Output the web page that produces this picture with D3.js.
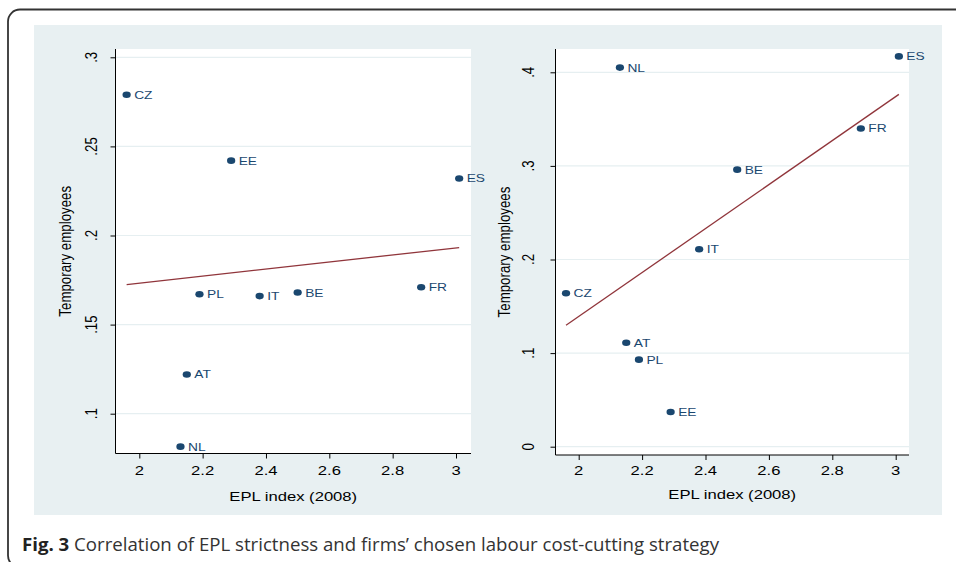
<!DOCTYPE html>
<html><head><meta charset="utf-8">
<script src="https://cdn.jsdelivr.net/npm/d3@7"></script>
<style>body{margin:0;background:#fff;}svg{display:block;}</style>
</head><body>
<svg id="chart" width="956" height="562"></svg>
<script>
const countries = ["CZ","EE","ES","PL","IT","BE","FR","AT","NL"];
const epl = [1.96, 2.29, 3.01, 2.19, 2.38, 2.50, 2.89, 2.15, 2.13];
const tempLeft = [0.279, 0.242, 0.232, 0.167, 0.166, 0.168, 0.171, 0.122, 0.0815];
const tempRight = [0.164, 0.037, 0.417, 0.093, 0.211, 0.296, 0.340, 0.111, 0.405];
const xTicks = [2, 2.2, 2.4, 2.6, 2.8, 3];
const yTicksLeft = [0.1, 0.15, 0.2, 0.25, 0.3];
const yTicksRight = [0, 0.1, 0.2, 0.3, 0.4];
const xTitle = "EPL index (2008)";
const yTitle = "Temporary employees";

const svg = d3.select("#chart");
const NAVY = "#1a476f", MAROON = "#90353b", FONT = "'Liberation Sans', Arial, sans-serif";
const SX = 1.25;      // horizontal stretch of the original graph image
const FS = 13.3;      // axis text size
const LFS = 11;       // marker label size

// outer border (bottom edge runs off the page)
svg.append("rect").attr("x", 8).attr("y", 9.5).attr("width", 980).attr("height", 558)
  .attr("rx", 12).attr("fill", "none").attr("stroke", "#333").attr("stroke-width", 1.8);
// graph region background
svg.append("rect").attr("x", 34).attr("y", 25).attr("width", 908).attr("height", 490).attr("fill", "#e8f0f2");

function fmt(v){ let s = d3.format("")(+v.toFixed(3)); return s.replace(/^0\./, "."); }

function ols(xs, ys){
  const mx = d3.mean(xs), my = d3.mean(ys);
  let sxy = 0, sxx = 0;
  xs.forEach((x,i)=>{ sxy += (x-mx)*(ys[i]-my); sxx += (x-mx)*(x-mx); });
  const b = sxy/sxx; return {b, a: my - b*mx};
}

function panel(cfg){
  const {ys, yTicks, xRange, yDomain, yRange, plot, ytlX, ytitleX, xtlY, xtitleY} = cfg;
  const x = d3.scaleLinear().domain([2,3]).range(xRange);
  const y = d3.scaleLinear().domain(yDomain).range(yRange);
  const g = svg.append("g");
  g.append("rect").attr("x", plot.x0).attr("y", plot.y0).attr("width", plot.x1-plot.x0)
    .attr("height", plot.y1-plot.y0).attr("fill", "#fff");
  // grid
  g.selectAll(".grid").data(yTicks).join("line")
    .attr("x1", plot.x0).attr("x2", plot.x1)
    .attr("y1", d=>y(d)).attr("y2", d=>y(d))
    .attr("stroke", "#e6eff1").attr("stroke-width", 1.2);
  // axes
  const yAxis = d3.axisLeft(y).tickValues(yTicks).tickSize(5).tickFormat("");
  g.append("g").attr("transform", `translate(${plot.x0},0)`).call(yAxis)
    .call(a=>{a.select(".domain").attr("d", `M0,${plot.y0}V${plot.y1}`).attr("stroke","#000");
              a.selectAll("line").attr("stroke","#000");});
  const xAxis = d3.axisBottom(x).tickValues(xTicks).tickSize(5).tickFormat("");
  g.append("g").attr("transform", `translate(0,${plot.y1})`).call(xAxis)
    .call(a=>{a.select(".domain").attr("d", `M${plot.x0},0H${plot.x1}`).attr("stroke","#000");
              a.selectAll("line").attr("stroke","#000");});
  // tick labels
  g.selectAll(".xtl").data(xTicks).join("text")
    .attr("transform", d=>`translate(${x(d)},${xtlY}) scale(${SX},1)`).attr("text-anchor","middle")
    .attr("font-family", FONT).attr("font-size", FS).attr("fill","#000").text(d=>fmt(d));
  g.selectAll(".ytl").data(yTicks).join("text")
    .attr("transform", d=>`translate(${ytlX},${y(d)}) scale(${SX},1) rotate(-90)`)
    .attr("text-anchor","middle").attr("font-family", FONT).attr("font-size", FS).attr("fill","#000")
    .text(d=>fmt(d));
  // titles
  g.append("text").attr("transform", `translate(${(plot.x0+plot.x1)/2},${xtitleY}) scale(${SX},1)`)
    .attr("text-anchor","middle")
    .attr("font-family", FONT).attr("font-size", FS).attr("fill","#000").text(xTitle);
  g.append("text").attr("transform", `translate(${ytitleX},${(plot.y0+plot.y1)/2}) scale(${SX},1) rotate(-90)`)
    .attr("text-anchor","middle").attr("font-family", FONT).attr("font-size", FS).attr("fill","#000").text(yTitle);
  // fit line
  const f = ols(epl, ys);
  const xmin = d3.min(epl), xmax = d3.max(epl);
  g.append("line").attr("x1", x(xmin)).attr("x2", x(xmax))
    .attr("y1", y(f.a + f.b*xmin)).attr("y2", y(f.a + f.b*xmax))
    .attr("stroke", MAROON).attr("stroke-width", 1.3);
  // points
  const data = countries.map((c,i)=>({c, x: epl[i], y: ys[i]}));
  g.selectAll(".pt").data(data).join("ellipse")
    .attr("cx", d=>x(d.x)).attr("cy", d=>y(d.y)).attr("rx", 3.3*SX).attr("ry", 3.3).attr("fill", NAVY);
  g.selectAll(".lbl").data(data).join("text")
    .attr("transform", d=>`translate(${x(d.x)+7.5},${y(d.y)+4}) scale(${SX},1)`)
    .attr("font-family", FONT).attr("font-size", LFS).attr("fill", NAVY).text(d=>d.c);
}

panel({ys: tempLeft, yTicks: yTicksLeft, xRange: [139.3, 456], yDomain: [0.1, 0.3], yRange: [413.7, 57.3],
  plot: {x0: 115.5, x1: 471, y0: 49, y1: 453.5}, ytlX: 97, ytitleX: 71, xtlY: 475, xtitleY: 501});
panel({ys: tempRight, yTicks: yTicksRight, xRange: [578.7, 895.7], yDomain: [0, 0.4], yRange: [446.7, 72.3],
  plot: {x0: 555.5, x1: 909, y0: 49, y1: 455}, ytlX: 534, ytitleX: 510, xtlY: 475, xtitleY: 499});

// caption
const cap = svg.append("text").attr("x", 22).attr("y", 551).attr("font-family", "'Open Sans', sans-serif")
  .attr("font-size", 17.5).attr("fill", "#333");
cap.append("tspan").attr("font-weight", "bold").attr("fill", "#222").text("Fig. 3");
cap.append("tspan").text(" Correlation of EPL strictness and firms\u2019 chosen labour cost-cutting strategy");
cap.attr("textLength", 697).attr("lengthAdjust", "spacingAndGlyphs");
</script>
</body></html>
